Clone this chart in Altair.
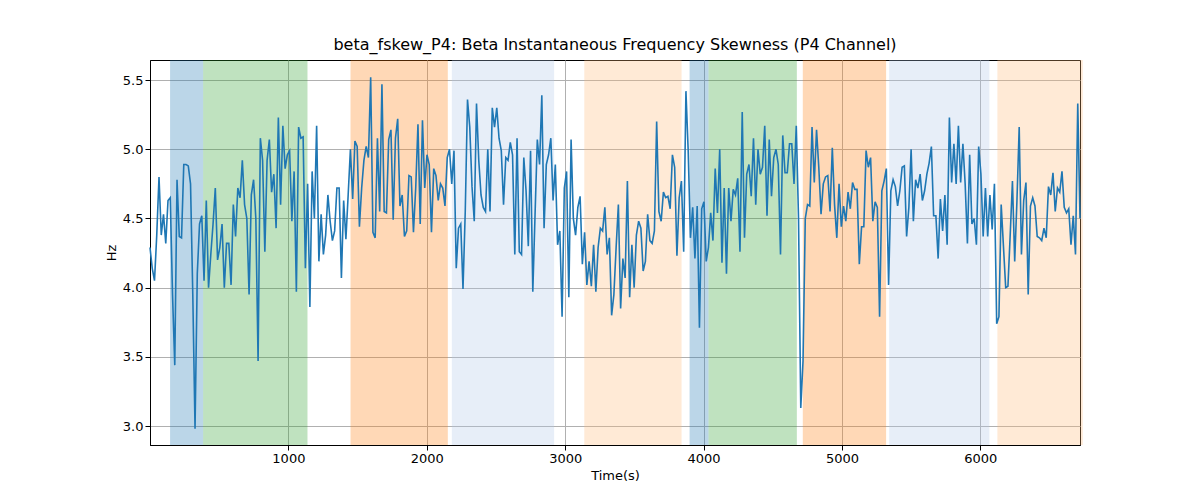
import altair as alt
import pandas as pd

values = [
    4.29, 4.14, 4.05, 4.38, 4.8, 4.38, 4.53, 4.32, 4.63, 4.65, 3.95, 3.44,
    4.78, 4.37, 4.36, 4.89, 4.89, 4.88, 4.75, 3.95, 2.98, 4.1, 4.46, 4.52,
    4.05, 4.63, 4.0, 4.24, 4.46, 4.72, 4.2, 4.29, 4.46, 4.0, 4.32, 4.32,
    4.02, 4.6, 4.37, 4.72, 4.65, 4.92, 4.6, 4.5, 3.95, 4.67, 4.78, 4.5,
    3.47, 5.08, 4.92, 4.26, 4.92, 5.07, 4.69, 4.82, 4.43, 5.23, 4.6, 5.17,
    4.86, 4.96, 4.99, 4.48, 4.84, 3.97, 5.16, 5.08, 5.09, 4.14, 4.75, 3.86,
    # 1160 .. 2290
    4.84, 4.5, 5.17, 4.19, 4.53, 4.24, 4.38, 4.67, 4.48, 4.34, 4.41, 4.72,
    4.72, 4.07, 4.63, 4.35, 4.67, 5.0, 4.64, 5.06, 5.02, 4.44, 4.72, 4.92,
    5.02, 4.94, 5.52, 4.4, 4.36, 5.08, 4.55, 5.47, 4.55, 4.54, 5.07, 5.14,
    4.49, 5.08, 5.22, 4.59, 4.67, 4.37, 4.41, 4.81, 4.8, 4.4, 4.72, 5.18,
    4.46, 5.21, 4.72, 4.96, 4.89, 4.4, 4.86, 4.81, 4.63, 4.75, 4.72, 4.59,
    4.94, 5.0, 4.75, 4.99, 4.14, 4.43, 4.46, 3.99, 4.55, 5.36, 5.16, 4.73,
    # 2290 .. 3400
    4.48, 5.33, 4.92, 4.67, 4.58, 4.55, 5.0, 4.55, 5.3, 5.16, 5.3, 5.08,
    4.99, 4.6, 4.94, 4.92, 5.05, 4.96, 4.24, 5.08, 4.26, 4.24, 4.94, 4.7,
    4.3, 4.99, 3.97, 4.53, 5.07, 4.89, 5.39, 4.43, 4.89, 4.96, 5.08, 4.63,
    4.89, 4.31, 4.41, 3.79, 4.72, 4.84, 3.93, 5.07, 4.5, 4.38, 4.58, 4.66,
    4.17, 4.4, 4.02, 4.19, 4.01, 4.31, 3.97, 4.29, 4.43, 4.41, 4.58, 4.24,
    4.36, 3.8, 3.95, 4.29, 4.6, 3.85, 4.21, 4.07, 4.77, 3.93, 4.31,
    # 3400 .. 4530
    4.0, 4.38, 4.48, 4.43, 4.12, 4.19, 4.53, 4.34, 4.32, 4.41, 5.2, 4.55,
    4.48, 4.69, 4.65, 4.66, 4.57, 4.96, 4.87, 4.23, 4.65, 4.77, 4.26, 5.42,
    4.99, 4.36, 4.58, 4.21, 4.59, 3.71, 4.57, 4.62, 4.19, 4.29, 4.54,
    4.34, 4.86, 4.54, 5.0, 4.18, 4.72, 4.1, 4.72, 4.48, 4.71,
    4.67, 4.79, 4.26, 5.27, 4.36, 4.82, 4.89, 4.66, 5.08, 4.6, 5.0,
    4.82, 4.87, 5.17, 4.52, 5.07, 4.66, 4.94,
    # 4530 .. 5650
    5.0, 4.89, 4.24, 5.1, 4.83, 4.83, 5.04, 5.04, 4.75, 5.17, 4.5, 3.13,
    3.47, 4.5, 4.6, 4.59, 5.16, 4.76, 5.14, 4.87, 4.53, 4.75, 4.8, 4.81,
    4.55, 5.01, 4.6, 4.36, 4.75, 4.44, 4.59, 4.48, 4.69, 4.57, 4.76, 4.71,
    4.71, 4.17, 4.44, 4.44, 4.99, 4.87, 4.94, 4.48, 4.62, 4.58, 3.79, 4.7,
    4.77, 4.86, 4.02, 4.7, 4.78, 4.73, 4.59, 4.7, 4.87, 4.88, 4.37, 4.58,
    5.0, 4.48, 4.78, 4.72, 4.82, 4.63, 4.70, 4.82, 4.9, 5.02, 4.52, 4.52, 4.21,
    # 5650 .. 6720
    4.64, 4.41, 4.67, 4.31, 5.23, 4.76, 5.04, 4.75, 5.17, 4.76, 5.04, 4.75,
    4.32, 4.96, 4.46, 4.5, 4.31, 5.02, 4.82, 4.37, 4.72, 4.37, 4.67, 4.42,
    4.75, 3.74, 3.79, 4.6, 4.3, 4.0, 4.01, 4.38, 4.77, 4.19, 4.63, 5.16, 4.24,
    4.63, 4.76, 3.95, 4.59, 4.65, 4.59, 4.37, 4.36, 4.34, 4.43, 4.36, 4.73,
    4.67, 4.83, 4.55, 4.72, 4.69, 4.84, 4.58, 4.54, 4.57, 4.31, 4.52, 4.24,
    5.33, 4.5,
]
t_end = 6720
n = len(values)
times = [i * t_end / (n - 1) for i in range(n)]

span_start = [145, 384, 1449, 2181, 3138, 3899, 4036, 4717, 5341, 6123]
span_end = [384, 1138, 2152, 2920, 3841, 4036, 4674, 5319, 6065, 6740]
span_kind = ["a", "b", "c", "d", "e", "a", "b", "c", "d", "e"]
kind_names = ["a", "b", "c", "d", "e"]
kind_colors = ["#1f77b4", "#2ca02c", "#ff7f0e", "#aec7e8", "#ffbb78"]

sig = pd.DataFrame({"t": times, "v": values})
spans = pd.DataFrame({"s": span_start, "e": span_end, "k": span_kind})

xscale = alt.Scale(domain=[0, t_end], nice=False, zero=False)
yscale = alt.Scale(domain=[2.863, 5.645], nice=False, zero=False)

rects = alt.Chart(spans).mark_rect(opacity=0.3).encode(
    x=alt.X("s:Q", scale=xscale),
    x2="e:Q",
    color=alt.Color("k:N", scale=alt.Scale(domain=kind_names, range=kind_colors), legend=None),
)

line = alt.Chart(sig).mark_line(color="#1f77b4", strokeWidth=1.6).encode(
    x=alt.X("t:Q", scale=xscale, title="Time(s)",
            axis=alt.Axis(values=[1000, 2000, 3000, 4000, 5000, 6000], format="d")),
    y=alt.Y("v:Q", scale=yscale, title="Hz",
            axis=alt.Axis(values=[3.0, 3.5, 4.0, 4.5, 5.0, 5.5], format=".1f")),
)

chart = alt.layer(rects, line).properties(
    width=930, height=385,
    title="beta_fskew_P4: Beta Instantaneous Frequency Skewness (P4 Channel)",
    autosize=alt.AutoSizeParams(type="none"),
    padding={"left": 142, "top": 52, "right": 112, "bottom": 47},
).configure_axis(
    grid=True, gridColor="#b0b0b0", gridWidth=1, domainColor="black",
    tickColor="black", labelColor="black", labelFontSize=13, titleFontSize=13,
    titleFontWeight="normal", titleColor="black", labelFont="DejaVu Sans",
    titleFont="DejaVu Sans",
).configure_title(
    fontSize=16, fontWeight="normal", font="DejaVu Sans", color="black", offset=7,
).configure_view(stroke="black", strokeWidth=1)

chart.save("out.html", embed_options={"renderer": "svg", "actions": False})
